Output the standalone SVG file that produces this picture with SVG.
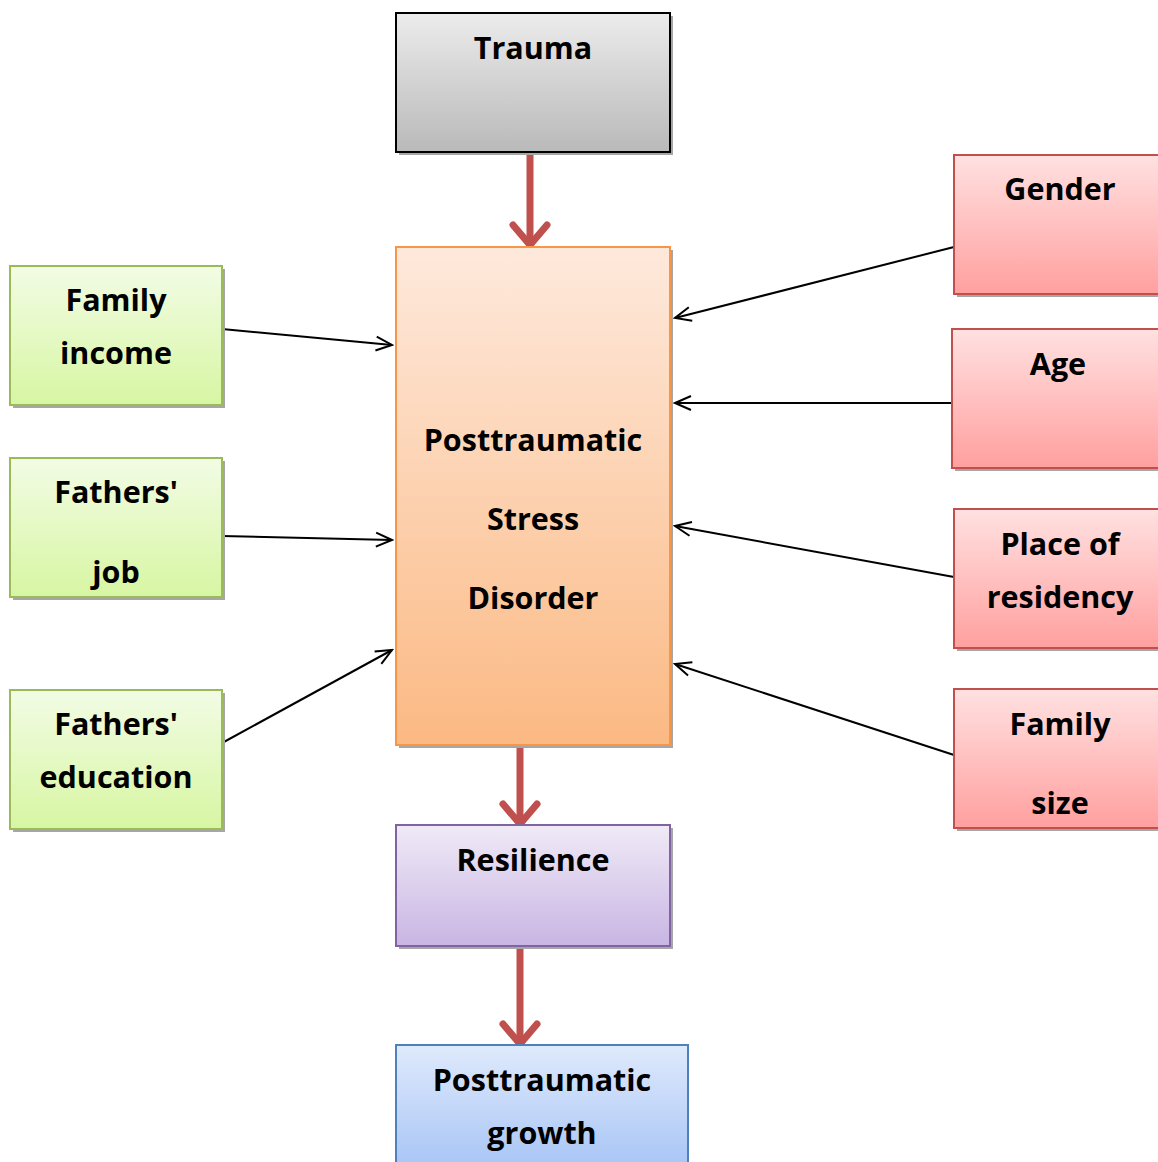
<svg xmlns="http://www.w3.org/2000/svg" width="1158" height="1162" viewBox="0 0 1158 1162">
<defs>
<linearGradient id="gGray" x1="0" y1="0" x2="0" y2="1"><stop offset="0" stop-color="#ececec"/><stop offset="1" stop-color="#b9b9b9"/></linearGradient>
<linearGradient id="gOrange" x1="0" y1="0" x2="0" y2="1"><stop offset="0" stop-color="#fee9dc"/><stop offset="1" stop-color="#fbb983"/></linearGradient>
<linearGradient id="gPurple" x1="0" y1="0" x2="0" y2="1"><stop offset="0" stop-color="#f0eaf7"/><stop offset="1" stop-color="#c8b5e3"/></linearGradient>
<linearGradient id="gBlue" x1="0" y1="0" x2="0" y2="1"><stop offset="0" stop-color="#dfeafc"/><stop offset="1" stop-color="#a5c3f5"/></linearGradient>
<linearGradient id="gGreen" x1="0" y1="0" x2="0" y2="1"><stop offset="0" stop-color="#f2fce5"/><stop offset="1" stop-color="#d7f6a2"/></linearGradient>
<linearGradient id="gRed" x1="0" y1="0" x2="0" y2="1"><stop offset="0" stop-color="#ffe1e1"/><stop offset="1" stop-color="#ffa09f"/></linearGradient>
<marker id="open" viewBox="0 0 20 20" refX="18" refY="10" markerWidth="20" markerHeight="20" markerUnits="userSpaceOnUse" orient="auto">
<path d="M2,3 L18,10 L2,17" fill="none" stroke="#000" stroke-width="2"/>
</marker>
<marker id="red" viewBox="0 0 40 44" refX="34" refY="22" markerWidth="40" markerHeight="44" markerUnits="userSpaceOnUse" orient="auto">
<path d="M14,5 L34,22 L14,39" fill="none" stroke="#c0504d" stroke-width="7" stroke-linecap="round" stroke-linejoin="round"/>
</marker>
</defs>
<style>
.sh{fill:#a6a6a6}
.t{font-family:"Open Sans","DejaVu Sans",sans-serif;font-weight:bold;font-size:30.5px;fill:#000;text-anchor:middle}
.blk{stroke:#000;stroke-width:2;fill:none}
.redl{stroke:#c0504d;stroke-width:7;fill:none}
</style>
<g id="connectors">
<line class="redl" x1="530" y1="152" x2="530" y2="245" marker-end="url(#red)"/>
<line class="redl" x1="520" y1="746" x2="520" y2="824" marker-end="url(#red)"/>
<line class="redl" x1="520" y1="948" x2="520" y2="1044" marker-end="url(#red)"/>
<line class="blk" x1="222" y1="329" x2="392" y2="345" marker-end="url(#open)"/>
<line class="blk" x1="222" y1="536" x2="392" y2="540" marker-end="url(#open)"/>
<line class="blk" x1="222" y1="743" x2="392" y2="650" marker-end="url(#open)"/>
<line class="blk" x1="954" y1="247" x2="675" y2="318" marker-end="url(#open)"/>
<line class="blk" x1="954" y1="403" x2="675" y2="403" marker-end="url(#open)"/>
<line class="blk" x1="954" y1="577" x2="675" y2="526" marker-end="url(#open)"/>
<line class="blk" x1="954" y1="755" x2="675" y2="664" marker-end="url(#open)"/>
</g>
<g id="trauma">
<rect class="sh" x="399" y="16" width="274" height="139"/>
<rect x="396" y="13" width="274" height="139" fill="url(#gGray)" stroke="#000" stroke-width="2"/>
<text class="t" x="533" y="59">Trauma</text>
</g>
<g id="ptsd">
<rect class="sh" x="399" y="250" width="274" height="498"/>
<rect x="396" y="247" width="274" height="498" fill="url(#gOrange)" stroke="#f79646" stroke-width="2"/>
<text class="t" x="533" y="451">Posttraumatic</text>
<text class="t" x="533" y="530">Stress</text>
<text class="t" x="533" y="609">Disorder</text>
</g>
<g id="resilience">
<rect class="sh" x="399" y="828" width="274" height="121"/>
<rect x="396" y="825" width="274" height="121" fill="url(#gPurple)" stroke="#8064a2" stroke-width="2"/>
<text class="t" x="533" y="871">Resilience</text>
</g>
<g id="growth">
<rect x="396" y="1045" width="292" height="130" fill="url(#gBlue)" stroke="#4f81bd" stroke-width="2"/>
<text class="t" x="542" y="1091">Posttraumatic</text>
<text class="t" x="542" y="1144">growth</text>
</g>
<g id="family-income">
<rect class="sh" x="13" y="269" width="212" height="139"/>
<rect x="10" y="266" width="212" height="139" fill="url(#gGreen)" stroke="#9bbb59" stroke-width="2"/>
<text class="t" x="116" y="311">Family</text>
<text class="t" x="116" y="364">income</text>
</g>
<g id="fathers-job">
<rect class="sh" x="13" y="461" width="212" height="139"/>
<rect x="10" y="458" width="212" height="139" fill="url(#gGreen)" stroke="#9bbb59" stroke-width="2"/>
<text class="t" x="116" y="503">Fathers'</text>
<text class="t" x="116" y="583">job</text>
</g>
<g id="fathers-education">
<rect class="sh" x="13" y="693" width="212" height="139"/>
<rect x="10" y="690" width="212" height="139" fill="url(#gGreen)" stroke="#9bbb59" stroke-width="2"/>
<text class="t" x="116" y="735">Fathers'</text>
<text class="t" x="116" y="788">education</text>
</g>
<g id="gender">
<rect class="sh" x="957" y="158" width="210" height="139"/>
<rect x="954" y="155" width="210" height="139" fill="url(#gRed)" stroke="#c0504d" stroke-width="2"/>
<text class="t" x="1060" y="200">Gender</text>
</g>
<g id="age">
<rect class="sh" x="955" y="332" width="210" height="139"/>
<rect x="952" y="329" width="210" height="139" fill="url(#gRed)" stroke="#c0504d" stroke-width="2"/>
<text class="t" x="1058" y="375">Age</text>
</g>
<g id="place">
<rect class="sh" x="957" y="512" width="210" height="139"/>
<rect x="954" y="509" width="210" height="139" fill="url(#gRed)" stroke="#c0504d" stroke-width="2"/>
<text class="t" x="1060" y="555">Place of</text>
<text class="t" x="1060" y="608">residency</text>
</g>
<g id="family-size">
<rect class="sh" x="957" y="692" width="210" height="139"/>
<rect x="954" y="689" width="210" height="139" fill="url(#gRed)" stroke="#c0504d" stroke-width="2"/>
<text class="t" x="1060" y="735">Family</text>
<text class="t" x="1060" y="814">size</text>
</g>
</svg>
